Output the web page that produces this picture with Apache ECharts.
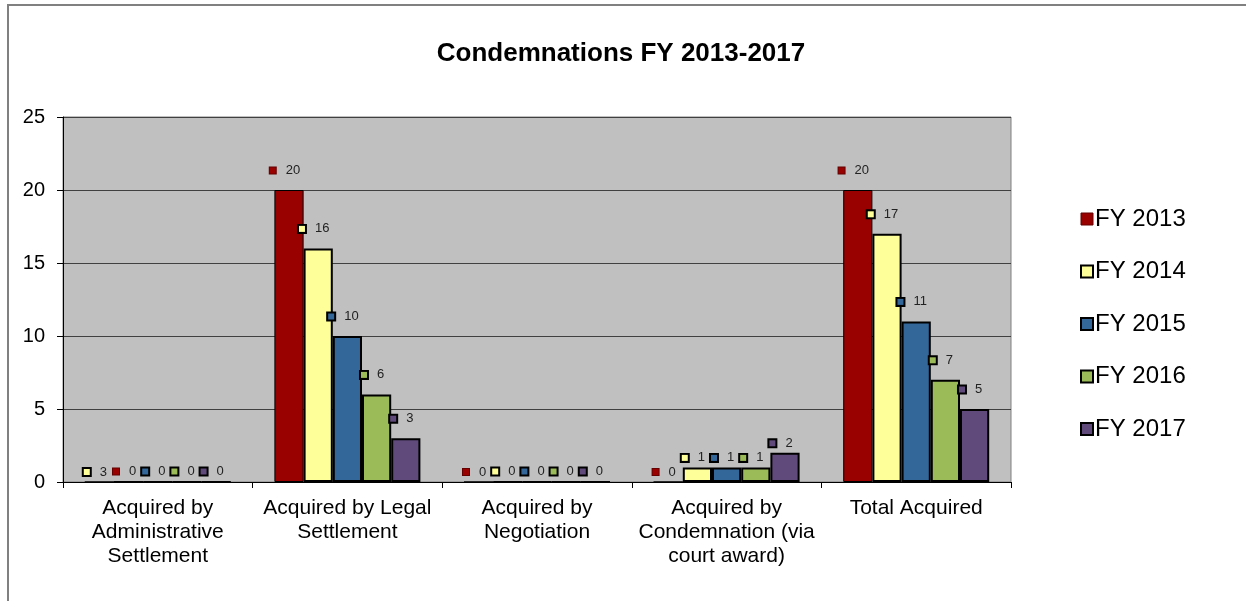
<!DOCTYPE html>
<html>
<head>
<meta charset="utf-8">
<script src="https://cdn.jsdelivr.net/npm/echarts@6/dist/echarts.min.js"></script>
<style>
html,body{margin:0;padding:0;background:#fff;}
#c{width:1246px;height:601px;}
</style>
</head>
<body>
<div id="c"></div>
<script>
const categories = ['Acquired by\nAdministrative\nSettlement', 'Acquired by Legal\nSettlement', 'Acquired by\nNegotiation', 'Acquired by\nCondemnation (via\ncourt award)', 'Total Acquired'];
const seriesNames = ['FY 2013', 'FY 2014', 'FY 2015', 'FY 2016', 'FY 2017'];
const fy2013 = [0, 20, 0, 0, 20];
const fy2014 = [0, 16, 0, 1, 17];
const fy2015 = [0, 10, 0, 1, 11];
const fy2016 = [0, 6, 0, 1, 7];
const fy2017 = [0, 3, 0, 2, 5];
// data labels as printed in the reference (first category's first two labels are swapped there)
const labelText2013 = ['3', '20', '0', '0', '20'];
const labelText2014 = ['0', '16', '0', '1', '17'];
const labelKey2013 = [1, 0, 0, 0, 0];
const labelKey2014 = [0, 1, 1, 1, 1];
const yTicks = [0, 5, 10, 15, 20, 25];

const FONT = 'Liberation Sans, Arial, sans-serif';
const colors = ['#990000', '#FFFF99', '#336699', '#9BBB59', '#604A7B'];
const values = [fy2013, fy2014, fy2015, fy2016, fy2017];
const labelTexts = [labelText2013, labelText2014, null, null, null];

const rich = {};
colors.forEach((c, i) => {
  rich['k' + i] = {
    width: 6, height: 6, backgroundColor: c,
    borderColor: i === 0 ? '#660000' : '#000', borderWidth: i === 0 ? 1 : 2
  };
});
rich.v = {fontSize: 13, color: '#222', fontFamily: FONT, padding: [0, 0, 0, 10]};

const series = values.map((vals, si) => ({
  name: seriesNames[si],
  type: 'bar',
  barGap: '0%',
  barCategoryGap: '23%',
  data: vals.map(v => ({value: v, label: {distance: v >= 3 ? 13 : 3}})),
  itemStyle: {color: colors[si], borderColor: '#000', borderWidth: si === 0 ? 1 : 2},
  label: {
    show: true,
    position: 'top',
    offset: [-4, 0],
    formatter: p => {
      const txt = labelTexts[si] ? labelTexts[si][p.dataIndex] : String(p.value);
      let keyIdx = si;
      if (si === 0 && labelKey2013[p.dataIndex] === 1) keyIdx = 1;
      if (si === 1 && labelKey2014[p.dataIndex] === 0) keyIdx = 0;
      return '{k' + keyIdx + '|}{v|' + txt + '}';
    },
    rich: rich
  }
}));

const chart = echarts.init(document.getElementById('c'));
chart.setOption({
  animation: false,
  backgroundColor: '#fff',
  textStyle: {fontFamily: FONT},
  title: {
    text: 'Condemnations FY 2013-2017',
    left: 616, top: 36, textAlign: 'center',
    textStyle: {fontSize: 26, fontWeight: 'bold', color: '#000', fontFamily: FONT}
  },
  graphic: [{
    type: 'rect', z: -1, silent: true,
    shape: {x: 8, y: 5, width: 1400, height: 800},
    style: {fill: 'none', stroke: '#808080', lineWidth: 2}
  }],
  legend: {
    orient: 'vertical', left: 1075, top: 202,
    itemWidth: 12, itemHeight: 12, itemGap: 28.5,
    icon: 'rect',
    textStyle: {fontSize: 24, color: '#000', lineHeight: 24, padding: [0, 0, 0, -3], fontFamily: FONT},
    data: seriesNames.map((n, i) => ({name: n, itemStyle: {borderColor: i === 0 ? '#660000' : '#000', borderWidth: i === 0 ? 1 : 2}}))
  },
  grid: {
    left: 63, top: 117, width: 948, height: 365,
    show: true, backgroundColor: '#C0C0C0', borderColor: '#808080', borderWidth: 1
  },
  xAxis: {
    type: 'category',
    data: categories,
    axisLine: {lineStyle: {color: '#000', width: 1}},
    axisTick: {show: true, length: 6, lineStyle: {color: '#000'}},
    axisLabel: {fontSize: 21, color: '#000', lineHeight: 24, margin: 14, interval: 0, fontFamily: FONT}
  },
  yAxis: {
    type: 'value', min: 0, max: 25, interval: 5,
    axisLine: {show: true, lineStyle: {color: '#000', width: 1}},
    axisTick: {show: true, length: 6, lineStyle: {color: '#000'}},
    axisLabel: {fontSize: 20, color: '#000', margin: 18, fontFamily: FONT,
      formatter: v => yTicks.includes(v) ? String(v) : ''},
    splitLine: {show: true, lineStyle: {color: '#404040', width: 1}}
  },
  series: series
});
</script>
</body>
</html>
